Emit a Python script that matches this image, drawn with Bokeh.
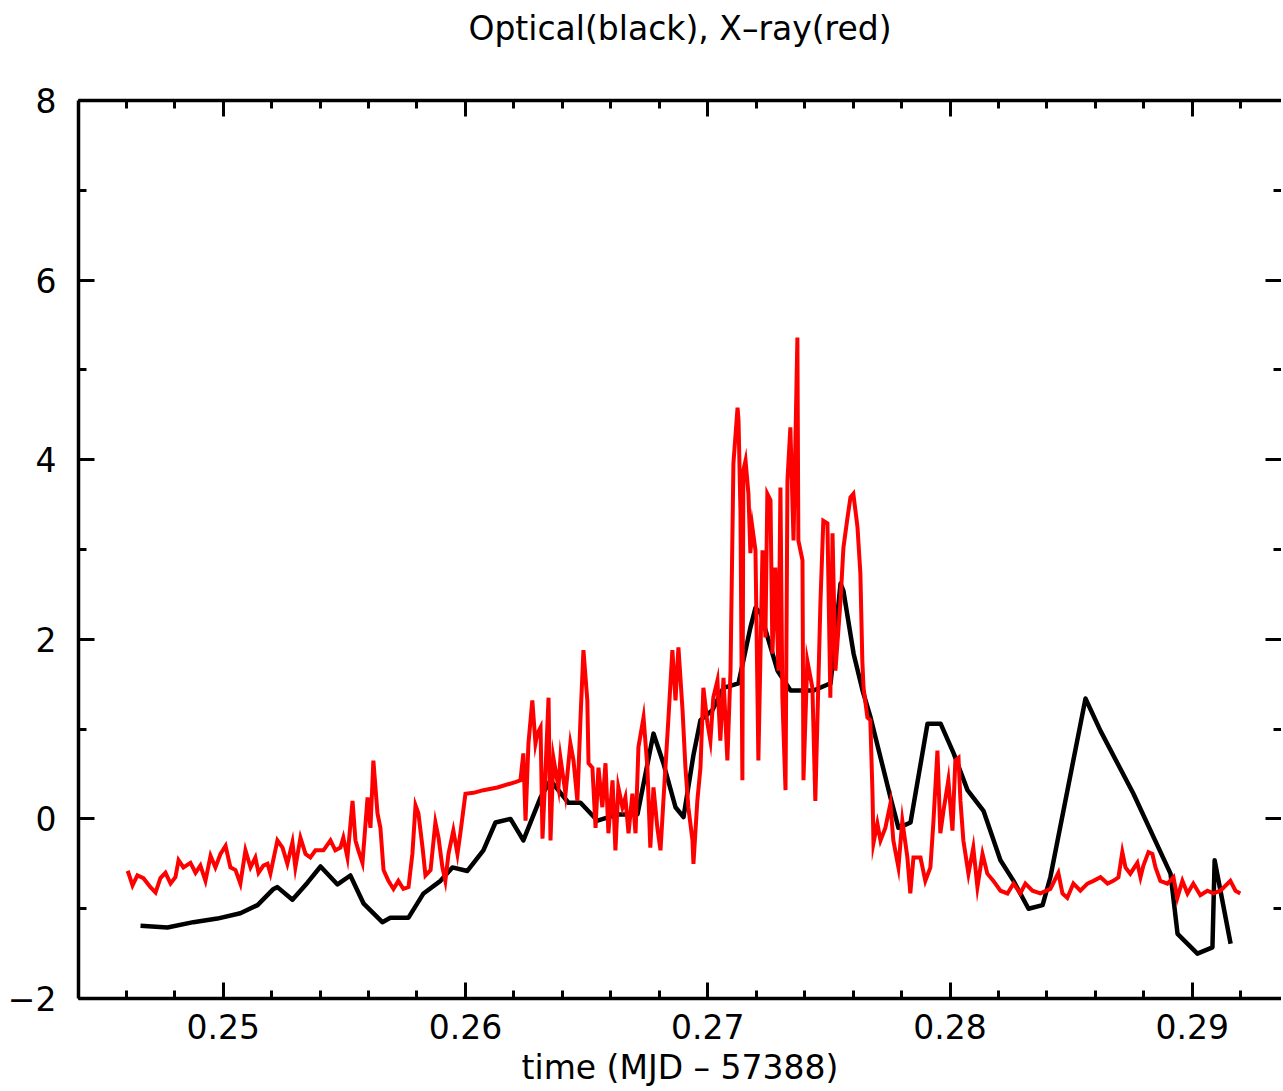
from bokeh.plotting import figure
from bokeh.models import (Range1d, LinearAxis, SingleIntervalTicker, PrintfTickFormatter,
                          CustomJSTickFormatter)
from bokeh.embed import file_html
from bokeh.resources import INLINE

# Optical light curve (black)
opt_time = [0.24659, 0.24770, 0.24877, 0.24976, 0.25071, 0.25142, 0.25208, 0.25224, 0.25286, 0.25348,
            0.25402, 0.25472, 0.25525, 0.25579, 0.25657, 0.25690, 0.25765, 0.25827, 0.25897, 0.25946,
            0.26008, 0.26074, 0.26124, 0.26186, 0.26239, 0.26310, 0.26351, 0.26425, 0.26475, 0.26545,
            0.26628, 0.26710, 0.26776, 0.26817, 0.26867, 0.26900, 0.26941, 0.26970, 0.27019, 0.27065,
            0.27127, 0.27176, 0.27197, 0.27218, 0.27288, 0.27342, 0.27437, 0.27507, 0.27548, 0.27560,
            0.27602, 0.27639, 0.27672, 0.27754, 0.27787, 0.27837, 0.27907, 0.27961, 0.28015, 0.28072,
            0.28138, 0.28208, 0.28262, 0.28324, 0.28382, 0.28414, 0.28559, 0.28621, 0.28757, 0.28910,
            0.28939, 0.29021, 0.29083, 0.29092, 0.29158]
opt_flux = [-1.19, -1.21, -1.15, -1.11, -1.05, -0.96, -0.78, -0.76, -0.90, -0.71,
            -0.53, -0.73, -0.63, -0.94, -1.15, -1.10, -1.10, -0.83, -0.69, -0.54,
            -0.58, -0.35, -0.04, 0.00, -0.24, 0.24, 0.43, 0.18, 0.18, -0.02,
            0.05, 0.05, 0.95, 0.62, 0.13, 0.02, 0.71, 1.10, 1.21, 1.46,
            1.51, 2.13, 2.35, 2.29, 1.65, 1.43, 1.43, 1.51, 2.62, 2.54,
            1.84, 1.43, 1.13, 0.24, -0.10, -0.04, 1.06, 1.06, 0.73, 0.32,
            0.09, -0.46, -0.69, -1.00, -0.96, -0.65, 1.34, 0.98, 0.28, -0.61,
            -1.28, -1.50, -1.43, -0.46, -1.39]

# X-ray light curve (red)
xray_time = [0.24601, 0.24609, 0.24626, 0.24646, 0.24671, 0.24700, 0.24721, 0.24741, 0.24762, 0.24783,
             0.24803, 0.24816, 0.24836, 0.24865, 0.24886, 0.24906, 0.24927, 0.24948, 0.24968, 0.24989,
             0.25010, 0.25030, 0.25051, 0.25071, 0.25092, 0.25113, 0.25133, 0.25146, 0.25166, 0.25183,
             0.25195, 0.25224, 0.25245, 0.25265, 0.25286, 0.25298, 0.25319, 0.25340, 0.25360, 0.25381,
             0.25414, 0.25443, 0.25463, 0.25484, 0.25496, 0.25513, 0.25534, 0.25546, 0.25558, 0.25575,
             0.25596, 0.25608, 0.25620, 0.25637, 0.25649, 0.25662, 0.25682, 0.25703, 0.25723, 0.25744,
             0.25765, 0.25781, 0.25794, 0.25806, 0.25823, 0.25835, 0.25856, 0.25876, 0.25889, 0.25905,
             0.25917, 0.25930, 0.25950, 0.25967, 0.25979, 0.26000, 0.26033, 0.26074, 0.26132, 0.26206,
             0.26227, 0.26239, 0.26248, 0.26260, 0.26276, 0.26289, 0.26297, 0.26310, 0.26318, 0.26330,
             0.26343, 0.26351, 0.26363, 0.26384, 0.26392, 0.26413, 0.26433, 0.26446, 0.26462, 0.26475,
             0.26487, 0.26503, 0.26508, 0.26524, 0.26537, 0.26549, 0.26565, 0.26578, 0.26590, 0.26607,
             0.26619, 0.26631, 0.26648, 0.26660, 0.26673, 0.26689, 0.26702, 0.26714, 0.26735, 0.26751,
             0.26763, 0.26776, 0.26792, 0.26805, 0.26817, 0.26838, 0.26854, 0.26867, 0.26879, 0.26896,
             0.26908, 0.26920, 0.26937, 0.26941, 0.26957, 0.26970, 0.26982, 0.26999, 0.27011, 0.27023,
             0.27040, 0.27052, 0.27065, 0.27081, 0.27094, 0.27106, 0.27123, 0.27127, 0.27135, 0.27143,
             0.27147, 0.27156, 0.27168, 0.27176, 0.27184, 0.27197, 0.27209, 0.27226, 0.27238, 0.27246,
             0.27259, 0.27267, 0.27279, 0.27292, 0.27300, 0.27308, 0.27321, 0.27329, 0.27341, 0.27354,
             0.27370, 0.27374, 0.27391, 0.27395, 0.27411, 0.27432, 0.27444, 0.27465, 0.27477, 0.27494,
             0.27506, 0.27515, 0.27527, 0.27548, 0.27560, 0.27577, 0.27589, 0.27601, 0.27618, 0.27630,
             0.27638, 0.27643, 0.27659, 0.27671, 0.27680, 0.27684, 0.27700, 0.27713, 0.27733, 0.27754,
             0.27766, 0.27787, 0.27803, 0.27824, 0.27836, 0.27849, 0.27878, 0.27898, 0.27919, 0.27931,
             0.27948, 0.27960, 0.27973, 0.27993, 0.28010, 0.28022, 0.28035, 0.28043, 0.28055, 0.28076,
             0.28096, 0.28113, 0.28134, 0.28154, 0.28179, 0.28208, 0.28237, 0.28262, 0.28290, 0.28311,
             0.28340, 0.28373, 0.28414, 0.28447, 0.28464, 0.28484, 0.28509, 0.28538, 0.28567, 0.28592,
             0.28621, 0.28650, 0.28674, 0.28695, 0.28711, 0.28724, 0.28744, 0.28773, 0.28786, 0.28798,
             0.28819, 0.28835, 0.28848, 0.28868, 0.28897, 0.28922, 0.28938, 0.28959, 0.28980, 0.29004,
             0.29033, 0.29062, 0.29087, 0.29116, 0.29157, 0.29178, 0.29198]
xray_flux = [-0.61, -0.60, -0.74, -0.63, -0.66, -0.76, -0.82, -0.66, -0.60, -0.72,
             -0.65, -0.46, -0.54, -0.49, -0.60, -0.52, -0.69, -0.41, -0.54, -0.39,
             -0.30, -0.54, -0.57, -0.72, -0.35, -0.54, -0.43, -0.60, -0.52, -0.50,
             -0.61, -0.24, -0.32, -0.50, -0.26, -0.54, -0.21, -0.39, -0.43, -0.35,
             -0.35, -0.24, -0.35, -0.32, -0.21, -0.43, 0.20, -0.24, -0.35, -0.49,
             0.24, -0.10, 0.65, 0.06, -0.10, -0.57, -0.69, -0.78, -0.69, -0.78,
             -0.76, -0.39, 0.15, 0.06, -0.32, -0.63, -0.57, -0.04, -0.21, -0.54,
             -0.69, -0.39, -0.13, -0.39, -0.16, 0.28, 0.29, 0.32, 0.35, 0.41,
             0.43, 0.73, -0.02, 0.84, 1.32, 0.84, 0.95, 1.02, -0.22, 0.51,
             1.35, -0.24, 0.68, 0.35, 0.68, 0.28, 0.84, 0.65, 0.20, 1.13,
             1.88, 1.32, 0.62, 0.57, -0.10, 0.57, 0.13, 0.62, -0.16, 0.43,
             -0.35, 0.35, 0.13, 0.24, -0.16, 0.28, -0.16, 0.80, 1.13, 0.57,
             -0.32, 0.35, -0.10, -0.35, 0.20, 1.13, 1.88, 1.32, 1.91, 1.21,
             0.57, 0.13, -0.24, -0.50, 0.20, 0.57, 1.46, 1.06, 0.87, 1.35,
             1.54, 0.87, 1.57, 0.65, 1.65, 3.96, 4.58, 4.44, 3.43, 0.43,
             3.88, 3.99, 3.62, 2.96, 3.25, 2.99, 0.65, 2.99, 2.02, 3.62,
             3.55, 1.84, 2.80, 1.65, 3.69, 1.35, 0.32, 3.77, 4.36, 3.10,
             5.36, 3.10, 2.88, 0.43, 1.76, 1.46, 0.20, 2.40, 3.32, 3.29,
             1.35, 3.18, 1.65, 2.43, 3.02, 3.36, 3.58, 3.62, 3.25, 2.73,
             1.76, 1.46, 1.13, 1.10, 0.28, -0.27, -0.05, -0.24, -0.10, 0.17,
             -0.24, -0.54, -0.02, -0.43, -0.83, -0.43, -0.43, -0.69, -0.54, -0.05,
             0.76, -0.16, 0.09, 0.43, -0.13, 0.65, 0.68, 0.20, -0.24, -0.61,
             -0.32, -0.76, -0.39, -0.61, -0.69, -0.80, -0.83, -0.72, -0.83, -0.72,
             -0.80, -0.83, -0.78, -0.60, -0.83, -0.88, -0.72, -0.80, -0.72, -0.69,
             -0.65, -0.72, -0.69, -0.65, -0.37, -0.54, -0.61, -0.49, -0.65, -0.52,
             -0.37, -0.39, -0.54, -0.69, -0.72, -0.65, -0.88, -0.69, -0.83, -0.72,
             -0.85, -0.80, -0.83, -0.80, -0.69, -0.80, -0.83]

x_tick_step = 0.01
y_tick_step = 2
title_text = "Optical(black), X\u2013ray(red)"
x_label = "time (MJD \u2013 57388)"

FONT = "DejaVu Sans"
FSIZE = "33px"

p = figure(width=1281, height=1091, output_backend="svg", toolbar_location=None,
           x_range=Range1d(0.24403, 0.29368), y_range=Range1d(-2, 8),
           min_border_left=78, min_border_right=0, min_border_top=100, min_border_bottom=93,
           background_fill_color="white", border_fill_color="white")
p.outline_line_color = None
p.xgrid.grid_line_color = None
p.ygrid.grid_line_color = None
p.title.visible = False


def style_axis(ax, show_labels=True, show_line=True):
    ax.axis_line_width = 3.5 if show_line else 0
    ax.axis_line_color = "black" if show_line else None
    ax.major_tick_in = 16
    ax.major_tick_out = 0
    ax.minor_tick_in = 8
    ax.minor_tick_out = 0
    ax.major_tick_line_width = 3
    ax.minor_tick_line_width = 3
    ax.major_tick_line_color = "black"
    ax.minor_tick_line_color = "black"
    ax.axis_label_text_font = FONT
    ax.axis_label_text_font_size = FSIZE
    ax.axis_label_text_font_style = "normal"
    ax.axis_label_text_color = "black"
    if show_labels:
        ax.major_label_text_font = FONT
        ax.major_label_text_font_size = FSIZE
        ax.major_label_text_color = "black"
    else:
        ax.formatter = CustomJSTickFormatter(code="return ''")
        ax.major_label_text_font_size = "1px"
        ax.major_label_text_color = None
        ax.major_label_standoff = 0


# bottom axis: tick labels + x-axis title
xa = p.xaxis[0]
xa.ticker = SingleIntervalTicker(interval=x_tick_step, num_minor_ticks=5)
xa.formatter = PrintfTickFormatter(format="%.2f")
style_axis(xa)
xa.major_label_standoff = 15
xa.axis_label = x_label
xa.axis_label_standoff = 6

# left axis
ya = p.yaxis[0]
ya.ticker = SingleIntervalTicker(interval=y_tick_step, num_minor_ticks=2)
ya.formatter = PrintfTickFormatter(format="%d")
ya.major_label_overrides = {-2: "\u22122"}
style_axis(ya)
ya.major_label_standoff = 22

# top axis: ticks only, carries the chart title as its label
top = LinearAxis(ticker=SingleIntervalTicker(interval=x_tick_step, num_minor_ticks=5))
style_axis(top, show_labels=False)
top.axis_label = title_text
top.axis_label_standoff = 53
p.add_layout(top, "above")

# right axis: ticks only
right = LinearAxis(ticker=SingleIntervalTicker(interval=y_tick_step, num_minor_ticks=2))
style_axis(right, show_labels=False, show_line=False)
p.add_layout(right, "right")

p.line(opt_time, opt_flux, line_color="black", line_width=4.5, line_join="round")
p.line(xray_time, xray_flux, line_color="#ff0000", line_width=4, line_join="miter")

open("out.html", "w").write(file_html(p, INLINE))
